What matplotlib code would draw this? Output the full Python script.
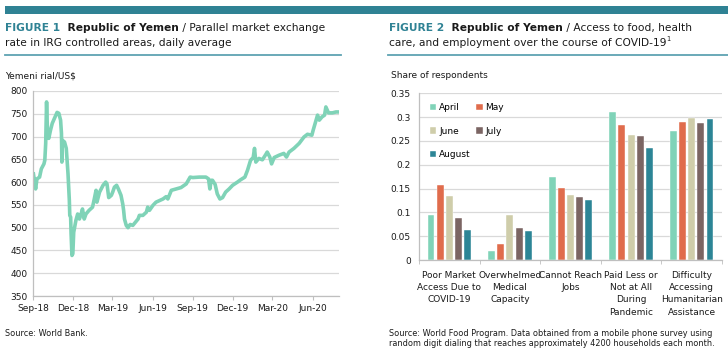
import matplotlib
matplotlib.use("Agg")
import matplotlib.pyplot as plt
import numpy as np
import pandas as pd
from matplotlib.patches import Rectangle
from matplotlib.lines import Line2D

plt.rcParams['font.family'] = ['DejaVu Sans']

# ---------------- Data: Figure 1 ----------------
fx_dates = ["2018-09-02", "2018-09-07", "2018-09-10", "2018-09-16", "2018-09-20", "2018-09-26",
            "2018-09-28", "2018-09-30", "2018-10-02", "2018-10-04", "2018-10-07", "2018-10-11",
            "2018-10-15", "2018-10-20", "2018-10-26", "2018-10-30", "2018-11-03", "2018-11-05",
            "2018-11-06", "2018-11-07", "2018-11-12", "2018-11-16", "2018-11-20", "2018-11-23",
            "2018-11-24", "2018-11-26", "2018-11-27", "2018-11-29", "2018-12-01", "2018-12-03",
            "2018-12-08", "2018-12-12", "2018-12-16", "2018-12-19", "2018-12-23", "2018-12-27",
            "2018-12-31", "2019-01-07", "2019-01-15", "2019-01-19", "2019-01-23", "2019-01-25",
            "2019-01-31", "2019-02-08", "2019-02-14", "2019-02-17", "2019-02-21", "2019-02-27",
            "2019-03-02", "2019-03-06", "2019-03-11", "2019-03-15", "2019-03-21", "2019-03-25",
            "2019-03-27", "2019-03-29", "2019-04-02", "2019-04-06", "2019-04-11", "2019-04-17",
            "2019-04-23", "2019-04-29", "2019-05-02", "2019-05-10", "2019-05-18", "2019-05-21",
            "2019-05-25", "2019-06-02", "2019-06-09", "2019-06-25", "2019-07-02", "2019-07-06",
            "2019-07-14", "2019-07-25", "2019-08-05", "2019-08-17", "2019-08-26", "2019-09-01",
            "2019-09-16", "2019-10-01", "2019-10-07", "2019-10-10", "2019-10-13", "2019-10-16",
            "2019-10-22", "2019-10-27", "2019-11-02", "2019-11-08", "2019-11-15", "2019-11-23",
            "2019-12-01", "2019-12-12", "2019-12-19", "2019-12-29", "2020-01-04", "2020-01-11",
            "2020-01-17", "2020-01-20", "2020-01-23", "2020-01-30", "2020-02-07", "2020-02-15",
            "2020-02-18", "2020-02-24", "2020-02-28", "2020-03-05", "2020-03-16", "2020-03-27",
            "2020-04-02", "2020-04-08", "2020-04-19", "2020-05-01", "2020-05-12", "2020-05-20",
            "2020-05-30", "2020-06-02", "2020-06-12", "2020-06-16", "2020-06-22", "2020-06-28",
            "2020-07-01", "2020-07-07", "2020-07-16", "2020-07-24", "2020-08-01"]
fx_values = [618, 585, 607, 611, 629, 640,
             648, 685, 776, 714, 696, 714,
             729, 740, 753, 751, 736, 707,
             644, 692, 688, 674, 618, 560,
             527, 523, 487, 439, 443, 490,
             516, 530, 519, 527, 541, 519,
             530, 538, 545, 563, 582, 556,
             578, 593, 600, 596, 566, 571,
             578, 589, 593, 585, 571, 552,
             538, 519, 505, 500, 507, 505,
             512, 519, 527, 527, 534, 545,
             538, 549, 556, 563, 568, 563,
             582, 585, 588, 596, 611, 610,
             611, 611, 607, 585, 604, 604,
             595, 574, 563, 566, 578, 585,
             593, 600, 605, 611, 626, 648,
             654, 674, 644, 652, 649, 661,
             666, 655, 640, 654, 659, 663,
             655, 666, 674, 685, 699, 705,
             703, 714, 747, 736, 743, 747,
             765, 752, 752, 754, 754]
fx_ticks = ["2018-09-01", "2018-12-01", "2019-03-01", "2019-06-01",
            "2019-09-01", "2019-12-01", "2020-03-01", "2020-06-01"]
fx_tick_labels = ["Sep-18", "Dec-18", "Mar-19", "Jun-19", "Sep-19", "Dec-19", "Mar-20", "Jun-20"]

# ---------------- Data: Figure 2 ----------------
categories = ["Poor Market\nAccess Due to\nCOVID-19", "Overwhelmed\nMedical\nCapacity",
              "Cannot Reach\nJobs", "Paid Less or\nNot at All\nDuring\nPandemic",
              "Difficulty\nAccessing\nHumanitarian\nAssistance"]
months = ["April", "May", "June", "July", "August"]
april = [0.095, 0.018, 0.174, 0.310, 0.271]
may = [0.157, 0.034, 0.152, 0.284, 0.290]
june = [0.134, 0.095, 0.137, 0.263, 0.299]
july = [0.089, 0.068, 0.133, 0.261, 0.287]
august = [0.063, 0.061, 0.125, 0.235, 0.297]
series = [april, may, june, july, august]
colors = ["#80d3b8", "#e06c4c", "#cfcdaa", "#7b6563", "#2c8596"]

TEAL = "#2f8294"
LINE_TEAL = "#5ea3b2"
GRID = "#d9d9d9"
AXC = "#bfbfbf"
TXT = "#1a1a1a"

W, H = 728, 358
fig = plt.figure(figsize=(W / 100, H / 100), dpi=100)

def fx(px):
    return px / W

def fy(py):
    return 1 - py / H

# Top teal band
fig.add_artist(Rectangle((fx(5), fy(14)), fx(723), 8 / H, transform=fig.transFigure,
                         color=TEAL, lw=0))
# underlines
fig.add_artist(Line2D([fx(5), fx(341)], [fy(54.5), fy(54.5)], transform=fig.transFigure,
                      color=LINE_TEAL, lw=1.3))
fig.add_artist(Line2D([fx(388), fx(728)], [fy(54.5), fy(54.5)], transform=fig.transFigure,
                      color=LINE_TEAL, lw=1.3))

renderer = fig.canvas.get_renderer()

def seq_text(x_px, y_px, parts, size):
    x = x_px
    for s, color, weight in parts:
        t = fig.text(fx(x), fy(y_px), s, color=color, fontweight=weight, fontsize=size,
                     va="baseline", ha="left")
        bb = t.get_window_extent(renderer=renderer)
        x += bb.width

TS = 7.7
seq_text(5, 31, [("FIGURE 1", TEAL, "bold"), ("  Republic of Yemen", TXT, "bold"),
                 (" / Parallel market exchange", TXT, "normal")], TS)
fig.text(fx(5), fy(46), "rate in IRG controlled areas, daily average", fontsize=TS,
         color=TXT, va="baseline")
seq_text(389, 31, [("FIGURE 2", TEAL, "bold"), ("  Republic of Yemen", TXT, "bold"),
                   (" / Access to food, health", TXT, "normal")], TS)
t = fig.text(fx(389), fy(46), "care, and employment over the course of COVID-19", fontsize=TS,
             color=TXT, va="baseline")
bb = t.get_window_extent(renderer=renderer)
fig.text(fx(389) + bb.width / W, fy(41), "1", fontsize=4.8, color=TXT, va="baseline")

# axis titles
fig.text(fx(5), fy(79), "Yemeni rial/US$", fontsize=6.5, color=TXT, va="baseline")
fig.text(fx(391), fy(78), "Share of respondents", fontsize=6.5, color=TXT, va="baseline")

# Sources
SS = 5.9
fig.text(fx(5), fy(336), "Source: World Bank.", fontsize=SS, color=TXT, va="baseline")
fig.text(fx(389), fy(336), "Source: World Food Program. Data obtained from a mobile phone survey using",
         fontsize=SS, color=TXT, va="baseline")
fig.text(fx(389), fy(346), "random digit dialing that reaches approximately 4200 households each month.",
         fontsize=SS, color=TXT, va="baseline")

# ---------------- Figure 1 axes ----------------
ax1 = fig.add_axes([fx(33), fy(296), fx(306), (296 - 91) / H])
dates = pd.to_datetime(fx_dates)
ax1.plot(dates, fx_values, color="#7fd3b7", lw=2.6, solid_joinstyle="round")
ax1.set_ylim(350, 800)
ax1.set_yticks(np.arange(350, 801, 50))
ax1.set_xlim(pd.Timestamp("2018-09-01"), pd.Timestamp("2020-07-31"))
ax1.set_xticks(pd.to_datetime(fx_ticks))
ax1.set_xticklabels(fx_tick_labels)
ax1.grid(axis="y", color=GRID, lw=0.9)
ax1.set_axisbelow(True)
for s in ["top", "right"]:
    ax1.spines[s].set_visible(False)
for s in ["left", "bottom"]:
    ax1.spines[s].set_color(AXC)
    ax1.spines[s].set_linewidth(0.9)
ax1.tick_params(axis="y", length=0, labelsize=6.5, colors=TXT, pad=4)
ax1.tick_params(axis="x", length=3, color=AXC, labelsize=6.5, colors=TXT, pad=3)

# ---------------- Figure 2 axes ----------------
ax2 = fig.add_axes([fx(419), fy(260), fx(303), (260 - 93.3) / H])
xc = np.arange(len(categories))
pitch = 0.151
bw = 0.115
handles = []
for i, (vals, c, m) in enumerate(zip(series, colors, months)):
    b = ax2.bar(xc + (i - 2) * pitch, vals, width=bw, color=c, label=m, edgecolor="#ffffff",
                linewidth=0.3)
    handles.append(b)
ax2.set_xlim(-0.5, len(categories) - 0.5)
ax2.set_ylim(0, 0.35)
ax2.set_yticks(np.arange(0, 0.351, 0.05))
ax2.set_yticklabels(["0", "0.05", "0.1", "0.15", "0.2", "0.25", "0.3", "0.35"])
ax2.set_xticks(xc)
ax2.set_xticklabels(categories, linespacing=1.45, va="top")
ax2.set_xticks(np.arange(-0.5, len(categories), 1), minor=True)
ax2.grid(axis="y", color=GRID, lw=0.9)
ax2.set_axisbelow(True)
for s in ["top", "right"]:
    ax2.spines[s].set_visible(False)
for s in ["left", "bottom"]:
    ax2.spines[s].set_color(AXC)
    ax2.spines[s].set_linewidth(0.9)
ax2.tick_params(axis="y", length=0, labelsize=6.5, colors=TXT, pad=6)
ax2.tick_params(axis="x", which="major", length=0, labelsize=6.5, colors=TXT, pad=8)
ax2.tick_params(axis="x", which="minor", length=3, color=AXC)

order = [0, 2, 4, 1, 3]
leg = ax2.legend([handles[k] for k in order], [months[k] for k in order],
                 loc="upper left", ncol=2, frameon=False, fontsize=6.5,
                 handlelength=0.7, handleheight=0.7, handletextpad=0.3,
                 columnspacing=0.6, labelspacing=1.6, bbox_to_anchor=(0.01, 0.99))

fig.savefig("out.png", dpi=100)
